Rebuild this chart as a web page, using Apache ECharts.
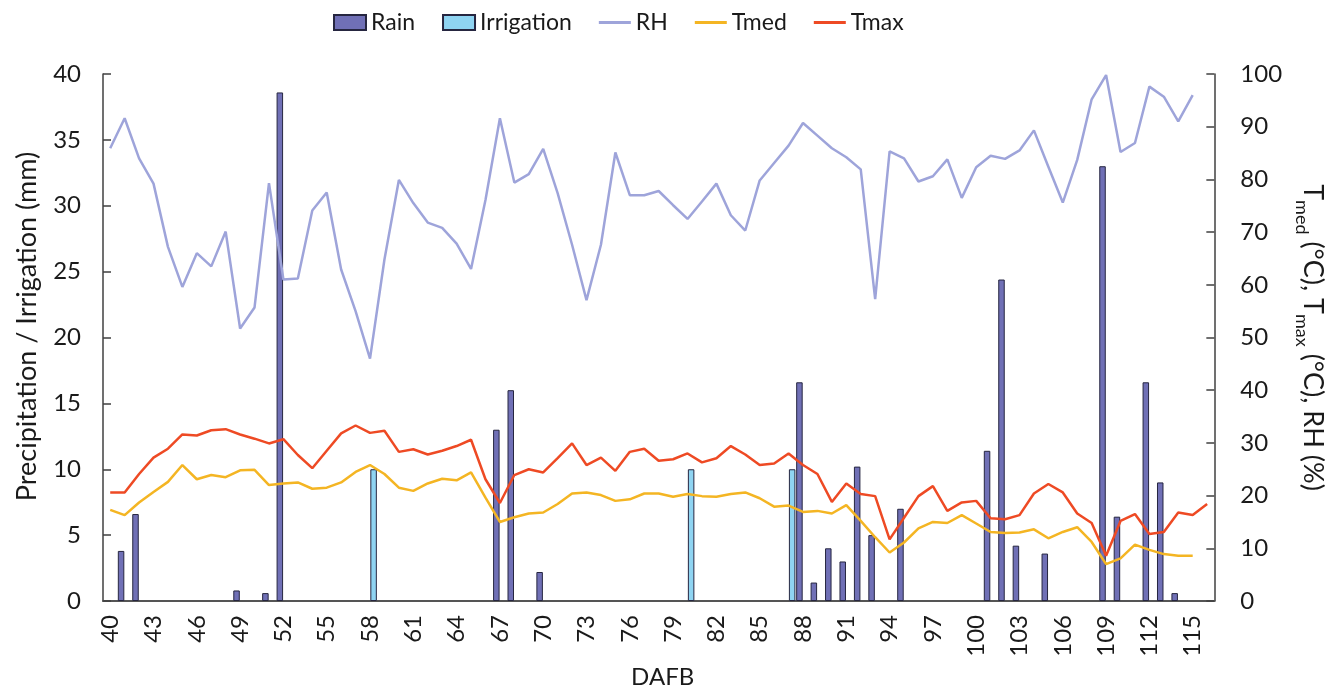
<!DOCTYPE html>
<html>
<head>
<meta charset="utf-8">
<script src="https://cdn.jsdelivr.net/npm/echarts@6/dist/echarts.min.js"></script>
<style>html,body{margin:0;padding:0;background:#fff}#c{width:1334px;height:694px}</style>
</head>
<body>
<div id="c"></div>
<script>
// Days after full bloom (categories)
const firstDay = 40, lastDay = 116;
const tickLabelsEvery = 3;

// Rain events (mm)
const rainDays   = [41, 42, 49, 51, 52, 67, 68, 70, 88, 89, 90, 91, 92, 93, 95, 101, 102, 103, 105, 109, 110, 112, 113, 114];
const rainValues = [3.8, 6.6, 0.8, 0.6, 38.6, 13.0, 16.0, 2.2, 16.6, 1.4, 4.0, 3.0, 10.2, 5.0, 7.0, 11.4, 24.4, 4.2, 3.6, 33.0, 6.4, 16.6, 9.0, 0.6];

// Irrigation events (mm)
const irrigationDays   = [58, 80, 87];
const irrigationValues = [10, 10, 10];

// Relative humidity (%), days 40..115
const rhValues = [85.9, 91.6, 84.0, 79.2, 67.2, 59.6, 66.0, 63.5, 70.1, 51.7,
  55.7, 79.3, 61.0, 61.2, 74.1, 77.5, 62.9, 55.0, 46.0, 64.8,
  79.9, 75.5, 71.8, 70.8, 67.8, 63.0, 76.1, 91.6, 79.4, 81.0,
  85.8, 77.4, 67.6, 57.1, 67.6, 85.1, 77.0, 77.0, 77.8, 75.1,
  72.5, 75.8, 79.2, 73.2, 70.3, 79.8, 83.1, 86.4, 90.7, 88.3,
  85.9, 84.2, 81.9, 57.3, 85.3, 84.0, 79.6, 80.6, 83.8, 76.5,
  82.3, 84.5, 83.9, 85.5, 89.3, 82.4, 75.6, 83.7, 95.2, 99.8,
  85.2, 86.9, 97.6, 95.7, 91.0, 96.0];

// Mean temperature (°C), days 40..115
const tmedValues = [17.3, 16.3, 18.7, 20.7, 22.6, 25.8, 23.1, 23.9, 23.5, 24.8,
  24.9, 22.0, 22.3, 22.5, 21.3, 21.5, 22.5, 24.5, 25.8, 24.1,
  21.5, 20.9, 22.3, 23.2, 22.9, 24.4, 19.6, 15.0, 15.9, 16.6,
  16.8, 18.4, 20.4, 20.6, 20.1, 19.0, 19.3, 20.4, 20.4, 19.8,
  20.3, 19.9, 19.8, 20.3, 20.6, 19.5, 17.9, 18.1, 16.9, 17.1,
  16.6, 18.2, 15.2, 12.1, 9.2, 11.1, 13.8, 15.0, 14.8, 16.3,
  14.7, 13.1, 12.9, 13.0, 13.6, 11.9, 13.1, 14.0, 11.2, 7.0,
  8.1, 10.7, 9.7, 8.9, 8.6, 8.6];

// Max temperature (°C), days 40..116
const tmaxValues = [20.6, 20.6, 24.1, 27.2, 28.9, 31.6, 31.4, 32.4, 32.6, 31.6,
  30.8, 29.9, 30.7, 27.7, 25.2, 28.5, 31.8, 33.3, 31.9, 32.3,
  28.3, 28.8, 27.8, 28.5, 29.4, 30.6, 23.1, 18.6, 23.9, 25.0,
  24.4, 27.1, 29.9, 25.8, 27.2, 24.7, 28.3, 28.9, 26.6, 26.9,
  28.0, 26.3, 27.1, 29.4, 27.8, 25.8, 26.1, 28.0, 25.8, 24.1,
  18.8, 22.3, 20.3, 19.9, 11.7, 15.8, 19.9, 21.8, 17.1, 18.7,
  19.0, 15.7, 15.5, 16.3, 20.4, 22.2, 20.6, 16.6, 14.8, 8.6,
  15.2, 16.5, 12.7, 13.1, 16.8, 16.3, 18.4];

const categories = [];
for (let d = firstDay; d <= lastDay; d++) categories.push(String(d));
function spread(days, vals) {
  const arr = categories.map(() => null);
  days.forEach((d, i) => { arr[d - firstDay] = vals[i]; });
  return arr;
}
function pad(vals) {
  const arr = vals.slice();
  while (arr.length < categories.length) arr.push(null);
  return arr;
}

const FONT = 'Lato';
const TXT = '#1a1a1a';
const AX = '#404040';
const LINE_ICON = 'path://M0,0 L32,0 L32,3 L0,3 Z';

const chart = echarts.init(document.getElementById('c'));
chart.setOption({
  backgroundColor: '#fff',
  animation: false,
  textStyle: { fontFamily: FONT, color: TXT },
  legend: {
    top: 6, left: 328,
    itemWidth: 32, itemHeight: 15, itemGap: 27,
    textStyle: { fontFamily: FONT, fontSize: 23, color: TXT },
    data: [
      { name: 'Rain', icon: 'rect' },
      { name: 'Irrigation', icon: 'rect' },
      { name: 'RH', icon: LINE_ICON },
      { name: 'Tmed', icon: LINE_ICON },
      { name: 'Tmax', icon: LINE_ICON }
    ]
  },
  grid: { left: 103, right: 119, top: 74, bottom: 92, containLabel: false },
  xAxis: {
    type: 'category', data: categories, boundaryGap: true,
    name: 'DAFB', nameLocation: 'middle', nameGap: 64,
    nameTextStyle: { fontFamily: FONT, fontSize: 24, color: TXT, padding: [0, 0, 0, 8] },
    axisLine: { lineStyle: { color: '#555', width: 2 } },
    axisTick: { show: false },
    axisLabel: { interval: tickLabelsEvery - 1, rotate: 90, margin: 14, fontFamily: FONT, fontSize: 24, color: TXT }
  },
  yAxis: [
    {
      type: 'value', min: 0, max: 40, interval: 5, position: 'left',
      name: 'Precipitation / Irrigation (mm)', nameLocation: 'middle', nameRotate: 90, nameGap: 62,
      nameTextStyle: { fontFamily: FONT, fontSize: 27, color: TXT, padding: [0, 0, 0, 22] },
      axisLine: { show: true, lineStyle: { color: AX, width: 1.5 } },
      axisTick: { show: true, inside: true, length: 8, lineStyle: { color: AX, width: 1.5 } },
      splitLine: { show: false },
      axisLabel: { margin: 22, fontFamily: FONT, fontSize: 24, color: TXT }
    },
    {
      type: 'value', min: 0, max: 100, interval: 10, position: 'right',
      name: '{t|T}{s|med}{t| (°C), T}{s|max}{t| (°C), RH (%)}',
      nameLocation: 'middle', nameRotate: -90, nameGap: 80,
      nameTextStyle: {
        rich: {
          t: { fontFamily: FONT, fontSize: 27, color: TXT, lineHeight: 30, verticalAlign: 'bottom' },
          s: { fontFamily: FONT, fontSize: 18, color: TXT, lineHeight: 16, verticalAlign: 'bottom', padding: [0, 0, -6, 0] }
        }
      },
      axisLine: { show: true, lineStyle: { color: AX, width: 1.5 } },
      axisTick: { show: true, inside: true, length: 8, lineStyle: { color: AX, width: 1.5 } },
      splitLine: { show: false },
      axisLabel: { margin: 26, fontFamily: FONT, fontSize: 24, color: TXT }
    }
  ],
  series: [
    {
      name: 'Rain', type: 'bar', yAxisIndex: 0, data: spread(rainDays, rainValues),
      barWidth: 6.5, barGap: '10%',
      itemStyle: { color: '#7070b6', borderColor: '#262640', borderWidth: 1 }
    },
    {
      name: 'Irrigation', type: 'bar', yAxisIndex: 0, data: spread(irrigationDays, irrigationValues),
      barWidth: 6.5, barGap: '10%',
      itemStyle: { color: '#8fd4f2', borderColor: '#262640', borderWidth: 1 }
    },
    {
      name: 'RH', type: 'line', yAxisIndex: 1, data: pad(rhValues), symbol: 'none', showSymbol: false,
      lineStyle: { color: '#9ea4da', width: 2.5 }, itemStyle: { color: '#9ea4da' }, z: 3
    },
    {
      name: 'Tmed', type: 'line', yAxisIndex: 1, data: pad(tmedValues), symbol: 'none', showSymbol: false,
      lineStyle: { color: '#f4b523', width: 2.5 }, itemStyle: { color: '#f4b523' }, z: 4
    },
    {
      name: 'Tmax', type: 'line', yAxisIndex: 1, data: pad(tmaxValues), symbol: 'none', showSymbol: false,
      lineStyle: { color: '#ee4a24', width: 2.5 }, itemStyle: { color: '#ee4a24' }, z: 5
    }
  ]
});
</script>
</body>
</html>
